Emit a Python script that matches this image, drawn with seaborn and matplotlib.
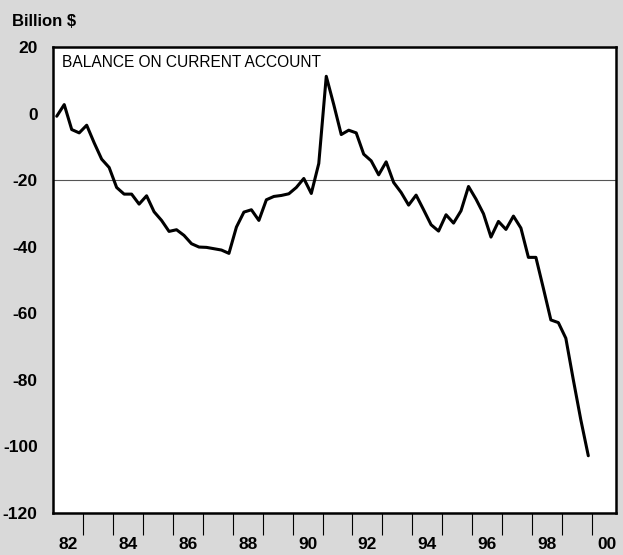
import numpy as np
import pandas as pd
import matplotlib
matplotlib.use("Agg")
import matplotlib.pyplot as plt
import seaborn as sns
from matplotlib.ticker import FixedLocator

# ---- data (quarterly, 1982Q1 - 1999Q4, billion $) ----
start_year = 1982
balance = [-0.8, 2.7, -4.8, -5.8, -3.5, -8.8, -13.7, -16.2,
           -22.2, -24.2, -24.2, -27.2, -24.7, -29.5, -32.1, -35.4,
           -34.9, -36.6, -39.1, -40.1, -40.2, -40.6, -41.0, -42.0,
           -34.1, -29.6, -28.9, -32.1, -25.9, -24.9, -24.6, -24.1,
           -22.2, -19.5, -24.0, -15.0, 11.2, 2.7, -6.3, -5.0,
           -5.8, -12.2, -14.2, -18.4, -14.5, -20.7, -23.7, -27.5,
           -24.5, -28.9, -33.4, -35.3, -30.4, -32.9, -29.2, -21.9,
           -25.7, -30.1, -37.1, -32.4, -34.8, -30.8, -34.4, -43.2,
           -43.2, -52.5, -62.0, -62.8, -67.5, -80.0, -92.0, -102.8]
y_ticks = [20, 0, -20, -40, -60, -80, -100, -120]
year_boundaries = list(range(1983, 2001))
label_years = [1982, 1984, 1986, 1988, 1990, 1992, 1994, 1996, 1998, 2000]
label_text = ["82", "84", "86", "88", "90", "92", "94", "96", "98", "00"]
ref_level = -20
title = "BALANCE ON CURRENT ACCOUNT"
unit = "Billion $"

quarter_pos = start_year + (np.arange(len(balance)) + 0.5) / 4.0
df = pd.DataFrame({"year": quarter_pos, "balance": balance})

sns.set_theme(style="white")
plt.rcParams["font.family"] = ["Liberation Sans", "DejaVu Sans"]
plt.rcParams["axes.unicode_minus"] = False

fig = plt.figure(figsize=(6.23, 5.55), dpi=100)
fig.patch.set_facecolor("#d9d9d9")
ax = fig.add_axes([53 / 623, 1 - 513 / 555, (616 - 53) / 623, (513 - 47) / 555])
ax.set_facecolor("white")

ax.axhline(ref_level, color="#555555", lw=0.8, zorder=1)
sns.lineplot(data=df, x="year", y="balance", ax=ax, color="black",
             linewidth=2.2, zorder=3)

ax.set_xlim(1982.0, 2000.8)
ax.set_ylim(-120, 20)
ax.set_xlabel("")
ax.set_ylabel("")

ax.yaxis.set_major_locator(FixedLocator(y_ticks))
ax.set_yticklabels([str(v) for v in y_ticks])
ax.tick_params(axis="y", which="major", direction="out", length=4, width=1,
               color="black", pad=7, labelsize=12.5)

ax.xaxis.set_major_locator(FixedLocator(year_boundaries))
ax.xaxis.set_minor_locator(FixedLocator([y + 0.5 for y in label_years]))
ax.set_xticklabels([], minor=False)
ax.set_xticklabels(label_text, minor=True)
ax.tick_params(axis="x", which="major", direction="out", length=16, width=0.8,
               color="black", labelbottom=False, bottom=True)
ax.tick_params(axis="x", which="minor", length=0, pad=17, labelsize=12.5,
               bottom=True)

for lbl in ax.get_yticklabels() + ax.get_xticklabels(minor=True):
    lbl.set_fontweight("bold")
    lbl.set_color("black")

for side in ["left", "right", "top", "bottom"]:
    ax.spines[side].set_visible(True)
    ax.spines[side].set_color("black")
    ax.spines[side].set_linewidth(1.8)

ax.text(0.016, 0.966, title, transform=ax.transAxes, ha="left", va="center",
        fontsize=11.2, color="black")
fig.text(12 / 623, 1 - 22 / 555, unit, ha="left", va="center",
         fontsize=12, fontweight="bold", color="black")

fig.savefig("out.png", dpi=100, facecolor=fig.get_facecolor())
